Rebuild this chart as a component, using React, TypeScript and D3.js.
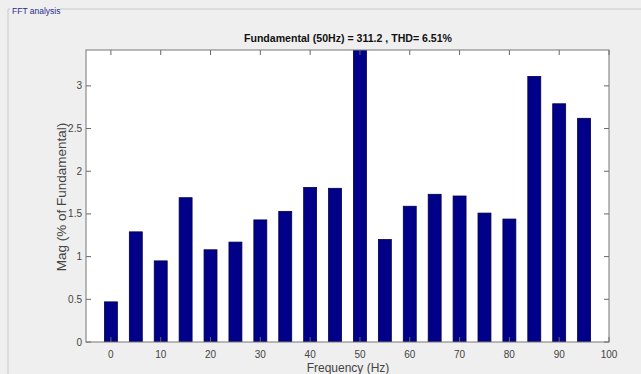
import React from "react";
import * as d3 from "d3";

// harmonic frequencies (Hz) and magnitudes (% of fundamental)
const freqs = [0, 5, 10, 15, 20, 25, 30, 35, 40, 45, 50, 55, 60, 65, 70, 75, 80, 85, 90, 95];
const mags = [0.47, 1.29, 0.95, 1.69, 1.08, 1.17, 1.43, 1.53, 1.81, 1.80, 100, 1.20, 1.59, 1.73, 1.71, 1.51, 1.44, 3.11, 2.79, 2.62];
const xTicks = [0, 10, 20, 30, 40, 50, 60, 70, 80, 90, 100];
const yTicks = [0, 0.5, 1, 1.5, 2, 2.5, 3];

const W = 641;
const H = 374;
const plot = { left: 86, right: 609, top: 50, bottom: 342 };

const App = () => {
  const x = d3.scaleLinear().domain([-5, 100]).range([plot.left, plot.right]);
  const y = d3.scaleLinear().domain([0, 3.42]).range([plot.bottom, plot.top]);
  const barW = (x(5) - x(0)) * 0.52;
  const font = "'Liberation Sans', Arial, sans-serif";

  return (
    <svg width={W} height={H} style={{ position: "absolute", left: 0, top: 0 }} fontFamily={font}>
      <rect width={W} height={H} fill="#efefef" />
      {/* group box */}
      <path d={`M 60 9 H ${W} M 8 9 H 10 M 8 9 V ${H}`} stroke="#c9c9c9" fill="none" />
      <text x={12} y={14} fontSize={8.5} fill="#2b2b8a">FFT analysis</text>

      <defs>
        <clipPath id="plotclip">
          <rect x={plot.left} y={plot.top} width={plot.right - plot.left} height={plot.bottom - plot.top} />
        </clipPath>
      </defs>
      <rect x={plot.left} y={plot.top} width={plot.right - plot.left} height={plot.bottom - plot.top} fill="#fff" />

      <g clipPath="url(#plotclip)">
        {freqs.map((f, i) => (
          <rect key={f} x={x(f) - barW / 2} y={y(mags[i])} width={barW}
            height={y(0) - y(mags[i])} fill="#000088" stroke="#00004a" strokeWidth={0.8} />
        ))}
      </g>

      {/* ticks */}
      {xTicks.map((t) => (
        <g key={"x" + t}>
          <line x1={x(t)} x2={x(t)} y1={plot.bottom} y2={plot.bottom - 5} stroke="#666" />
          <line x1={x(t)} x2={x(t)} y1={plot.top} y2={plot.top + 5} stroke="#666" />
          <text x={x(t)} y={358} textAnchor="middle" fontSize={10} fill="#444">{t}</text>
        </g>
      ))}
      {yTicks.map((t) => (
        <g key={"y" + t}>
          <line x1={plot.left} x2={plot.left + 5} y1={y(t)} y2={y(t)} stroke="#666" />
          <line x1={plot.right} x2={plot.right - 5} y1={y(t)} y2={y(t)} stroke="#666" />
          <text x={82} y={y(t) + 3.5} textAnchor="end" fontSize={10} fill="#444">{t}</text>
        </g>
      ))}
      <rect x={plot.left} y={plot.top} width={plot.right - plot.left} height={plot.bottom - plot.top}
        fill="none" stroke="#777" />

      <text x={348} y={42} textAnchor="middle" fontSize={11.5} fontWeight="bold" fill="#111"
        textLength={208} lengthAdjust="spacingAndGlyphs">
        Fundamental (50Hz) = 311.2 , THD= 6.51%
      </text>
      <text transform={`translate(66,197) rotate(-90)`} textAnchor="middle"
        fontSize={13.5} fill="#444">Mag (% of Fundamental)</text>
      <text x={348} y={372} textAnchor="middle" fontSize={12} fill="#444">Frequency (Hz)</text>
    </svg>
  );
};

export default App;
